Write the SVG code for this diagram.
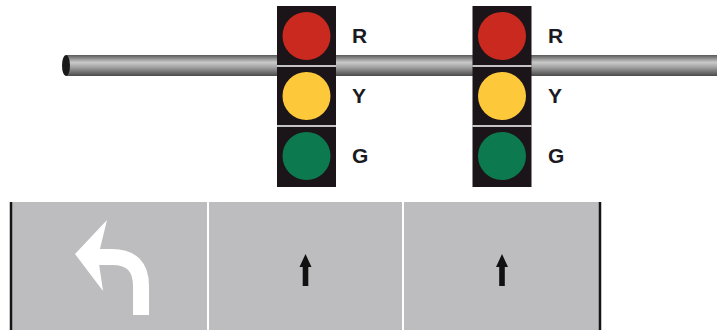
<svg xmlns="http://www.w3.org/2000/svg" width="717" height="333" viewBox="0 0 717 333">
  <defs>
    <linearGradient id="poleGrad" x1="0" y1="0" x2="0" y2="1">
      <stop offset="0" stop-color="#5a5a5a"/>
      <stop offset="0.35" stop-color="#c9c9c9"/>
      <stop offset="0.55" stop-color="#a8a8a8"/>
      <stop offset="1" stop-color="#4a4a4a"/>
    </linearGradient>
    <style>
      .box { fill: #1b1519; }
      .sep { stroke: #ffffff; stroke-width: 1.5; }
      .red { fill: #c9291f; }
      .yel { fill: #fdc93b; }
      .grn { fill: #0c7a4e; }
      .lbl { font-family: "Liberation Sans", Arial, sans-serif; font-weight: bold; font-size: 21px; fill: #1b1a22; }
      .lane { fill: #bdbdc0; }
      .edge { stroke: #151515; stroke-width: 2.5; }
      .div { stroke: #ffffff; stroke-width: 2; }
      .up { fill: #111111; }
    </style>
  </defs>

  <g id="pole">
    <rect x="66" y="55" width="651" height="21" fill="url(#poleGrad)"/>
    <ellipse cx="66" cy="65.5" rx="4" ry="10.5" fill="#1a1a1a"/>
  </g>

  <g id="signal1">
    <rect class="box" x="277" y="6" width="59" height="181"/>
    <line class="sep" x1="277" y1="66" x2="336" y2="66"/>
    <line class="sep" x1="277" y1="126" x2="336" y2="126"/>
    <circle class="red" cx="306.5" cy="36" r="24"/>
    <circle class="yel" cx="306.5" cy="96" r="24"/>
    <circle class="grn" cx="306.5" cy="156" r="24"/>
    <text class="lbl" x="352" y="43">R</text>
    <text class="lbl" x="352" y="103">Y</text>
    <text class="lbl" x="352" y="163">G</text>
  </g>

  <g id="signal2">
    <rect class="box" x="472.5" y="6" width="59" height="181"/>
    <line class="sep" x1="472.5" y1="66" x2="531.5" y2="66"/>
    <line class="sep" x1="472.5" y1="126" x2="531.5" y2="126"/>
    <circle class="red" cx="502" cy="36" r="24"/>
    <circle class="yel" cx="502" cy="96" r="24"/>
    <circle class="grn" cx="502" cy="156" r="24"/>
    <text class="lbl" x="548" y="43">R</text>
    <text class="lbl" x="548" y="103">Y</text>
    <text class="lbl" x="548" y="163">G</text>
  </g>

  <g id="lanes">
    <rect class="lane" x="11" y="202" width="589" height="128"/>
    <line class="edge" x1="11" y1="202" x2="11" y2="330"/>
    <line class="edge" x1="600" y1="202" x2="600" y2="330"/>
    <line class="div" x1="208" y1="202" x2="208" y2="330"/>
    <line class="div" x1="403" y1="202" x2="403" y2="330"/>
  </g>

  <g id="left-turn-arrow">
    <path d="M96 257 L112 257 Q141 257 141 286 L141 315" fill="none" stroke="#ffffff" stroke-width="16"/>
    <polygon points="107,220 75,254 103,291 98,257" fill="#ffffff"/>
  </g>

  <g id="through-arrow-1">
    <polygon class="up" points="305.5,254 311.5,267 308.3,267 308.3,286 302.7,286 302.7,267 299.5,267"/>
  </g>

  <g id="through-arrow-2">
    <polygon class="up" points="502,254 508,267 504.8,267 504.8,286 499.2,286 499.2,267 496,267"/>
  </g>
</svg>
